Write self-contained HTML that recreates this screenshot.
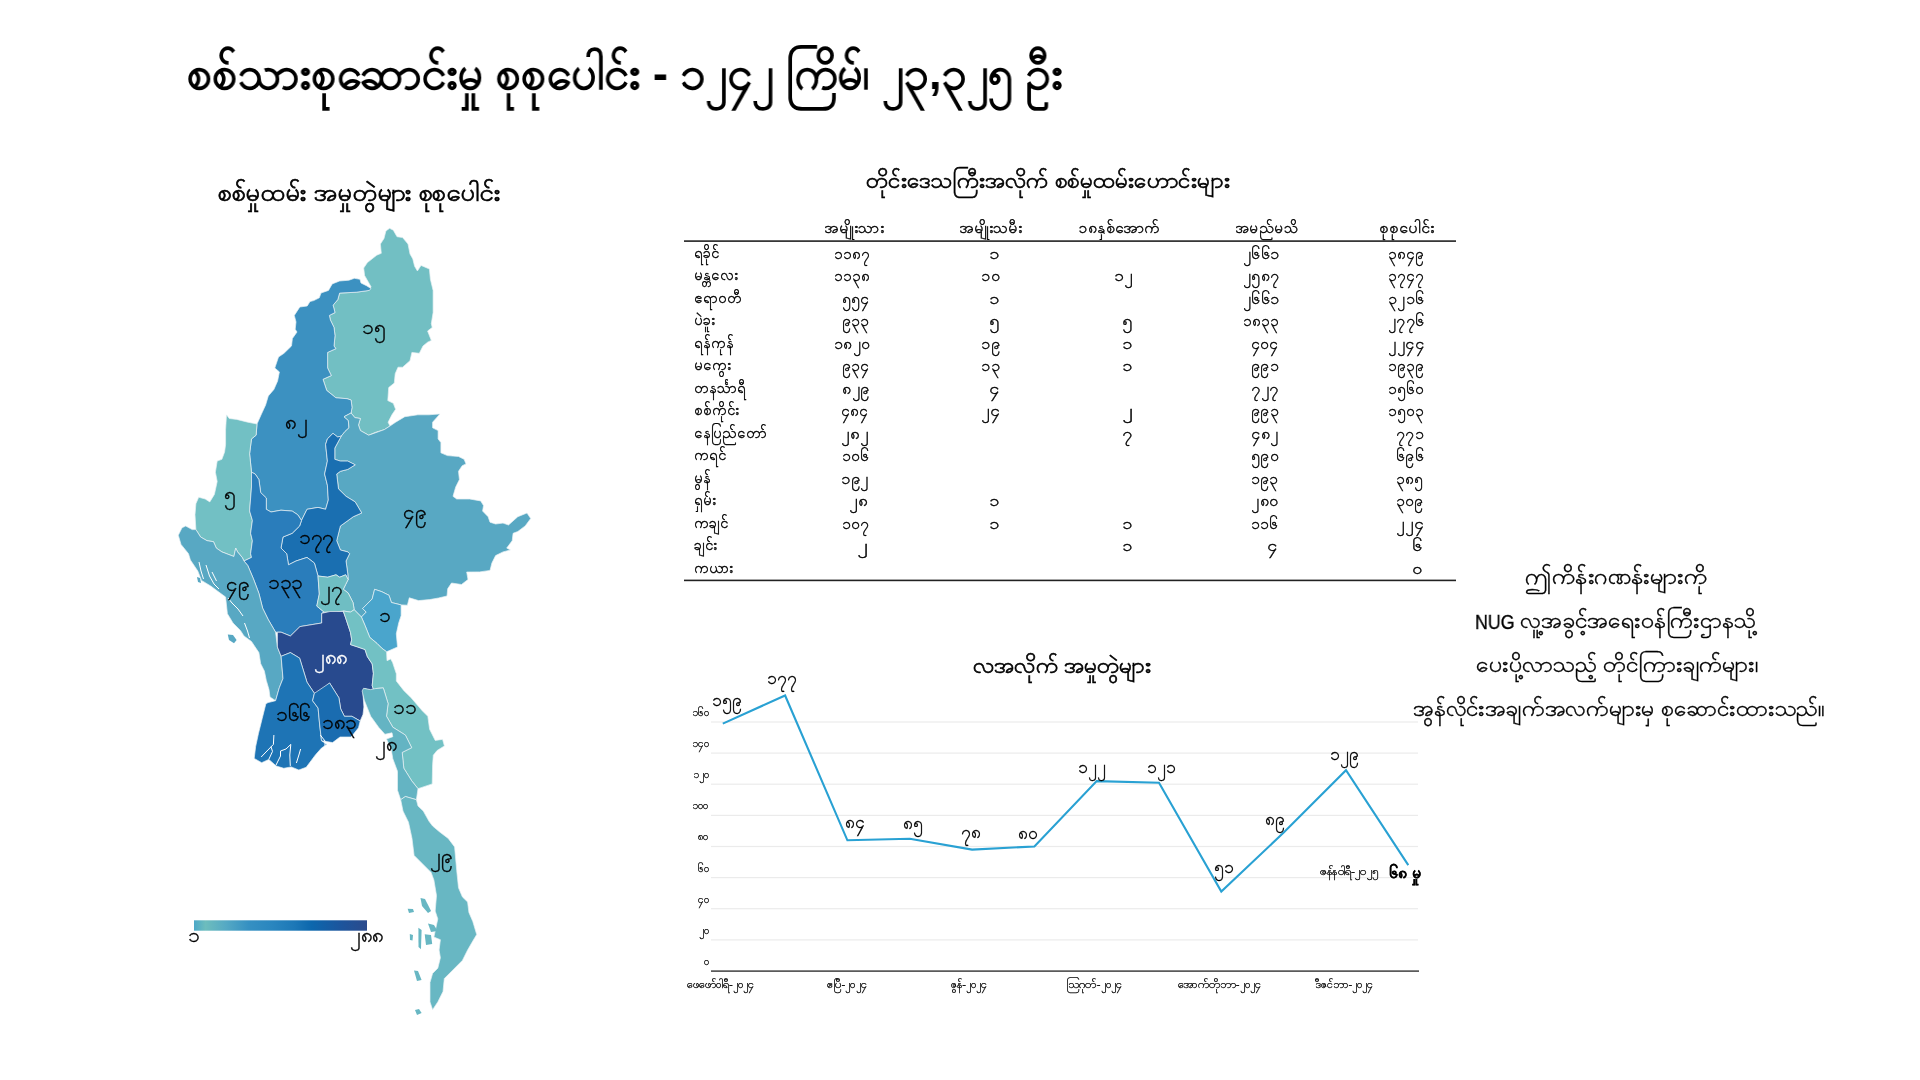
<!DOCTYPE html>
<html><head><meta charset="utf-8"><style>
html,body{margin:0;padding:0;background:#fff;width:1920px;height:1080px;overflow:hidden}
body{position:relative;font-family:"Liberation Sans",sans-serif;color:#000}
.t{position:absolute;white-space:nowrap;line-height:1;transform-origin:0 0;will-change:transform}
</style></head><body>
<svg width="1920" height="1080" style="position:absolute;left:0;top:0">
<g stroke="#e8f0f3" stroke-width="0.7" stroke-linejoin="round">
<polygon points="389.6,228.3 393.3,230.2 397.0,236.7 402.6,237.6 408.0,244.0 410.0,254.0 412.8,258.9 414.6,266.3 417.4,271.0 421.0,265.4 429.4,269.0 430.4,279.3 433.1,290.4 433.1,312.6 431.3,323.7 432.2,327.4 427.6,331.0 431.3,340.4 427.6,342.2 423.0,346.0 419.3,353.3 411.9,352.4 410.0,360.7 402.6,367.2 398.0,367.2 395.2,373.7 394.3,383.0 388.7,387.6 387.8,400.6 393.3,403.3 395.6,409.3 391.9,414.8 388.1,422.2 390.0,426.0 384.4,429.6 375.2,432.4 368.7,435.2 360.4,430.6 358.5,425.0 360.4,418.5 354.8,417.6 351.1,413.0 352.0,407.4 351.1,400.0 347.0,398.7 335.9,397.8 326.7,390.4 323.0,379.3 331.3,375.6 327.6,368.0 327.6,352.4 335.9,348.7 334.0,346.0 335.0,335.7 334.0,327.4 330.4,320.0 329.4,315.4 335.0,312.6 333.1,305.2 337.8,299.6 339.6,293.1 356.3,292.2 369.3,290.4 371.0,286.7 364.6,275.5 363.7,268.0 367.4,262.6 376.7,255.2 381.3,253.3 380.4,244.0 384.0,238.5 385.9,231.0" fill="#72bfc3"/>
<polygon points="371.0,288.5 366.5,285.7 361.0,283.0 360.0,279.3 354.4,278.3 348.9,280.2 339.6,281.0 332.2,283.9 328.5,290.4 321.0,293.0 319.3,297.8 313.7,300.6 310.0,301.5 307.2,306.0 299.8,307.0 294.3,315.4 296.0,321.9 295.2,329.3 297.0,332.0 292.4,338.5 291.5,346.0 284.0,353.3 278.5,357.0 274.8,368.0 279.4,371.9 277.6,381.0 273.9,389.4 268.3,396.0 265.6,405.0 261.0,415.0 257.0,424.0 256.1,435.2 251.5,438.9 249.6,453.7 251.5,472.2 255.2,474.0 258.9,479.6 260.7,492.6 266.3,498.0 266.3,509.3 271.0,512.0 281.0,510.2 292.2,511.1 297.8,514.8 301.5,520.4 307.0,509.3 318.0,507.4 325.6,509.3 328.3,500.0 327.4,485.2 324.6,474.0 327.4,461.1 325.6,444.4 327.4,438.9 333.0,433.3 337.6,437.0 341.3,436.1 345.0,431.5 349.0,427.8 348.3,420.4 344.0,416.7 351.1,413.0 352.0,407.4 351.1,400.0 347.0,398.7 335.9,397.8 326.7,390.4 323.0,379.3 331.3,375.6 327.6,368.0 327.6,352.4 335.9,348.7 334.0,346.0 335.0,335.7 334.0,327.4 330.4,320.0 329.4,315.4 335.0,312.6 333.1,305.2 337.8,299.6 339.6,293.1 356.3,292.2 369.3,290.4" fill="#3c91c1"/>
<polygon points="226.5,414.8 229.3,418.5 236.7,419.4 247.8,422.2 257.0,424.0 256.1,435.2 251.5,438.9 249.6,453.7 251.5,472.2 251.5,487.0 249.6,511.0 252.4,520.4 250.6,533.3 252.4,540.7 250.6,553.7 251.5,557.4 244.0,561.0 242.2,557.4 237.6,551.9 235.7,548.1 233.9,556.5 221.9,551.9 216.3,548.1 213.5,541.7 207.0,540.7 200.6,537.0 195.9,529.6 195.0,514.8 195.9,503.7 198.7,497.2 205.2,499.0 209.8,501.9 214.4,494.4 217.2,481.5 215.4,472.2 217.2,461.1 221.9,459.3 224.6,451.9 225.6,444.4 225.6,429.6" fill="#72c0c4"/>
<polygon points="368.7,435.2 384.4,429.6 390.0,426.0 395.6,422.2 404.8,416.7 417.8,414.8 428.9,414.8 440.0,413.9 432.6,422.2 432.6,427.8 438.1,430.6 438.1,438.9 440.9,442.6 440.9,452.8 447.4,455.6 458.5,456.5 464.1,459.3 466.0,463.9 462.2,465.7 458.5,471.3 459.4,479.6 455.7,487.0 453.0,496.3 456.7,499.0 469.6,499.0 480.7,500.9 483.5,505.6 482.6,511.1 488.1,516.7 490.0,522.2 495.6,524.0 503.0,523.1 508.5,525.0 517.8,516.7 527.0,513.0 530.7,518.5 525.2,525.9 517.8,531.5 513.1,533.3 512.2,540.7 506.7,548.1 510.4,550.0 503.0,551.9 495.6,555.6 491.9,563.0 490.0,570.4 479.6,571.9 466.7,572.0 468.0,579.5 461.5,584.5 451.5,583.0 447.7,588.7 447.0,596.0 438.5,598.0 429.6,599.6 418.5,600.6 409.3,597.8 407.4,605.2 401.1,604.9 391.4,602.5 389.0,595.3 381.8,591.7 374.6,589.3 372.2,598.9 362.6,608.5 366.2,612.1 361.4,617.0 354.2,609.7 353.0,602.5 348.1,592.9 343.3,589.3 345.7,584.4 348.1,579.6 347.8,574.0 346.0,561.0 349.6,553.7 347.8,551.9 340.4,550.0 336.7,540.7 340.4,526.0 353.3,516.7 361.7,513.0 355.2,501.9 346.0,496.3 338.5,488.9 336.7,474.0 340.4,471.3 347.8,469.4 355.2,464.8 347.8,461.1 340.4,461.1 334.8,459.3 334.8,448.1 341.3,436.1 345.0,431.5 349.0,427.8 348.3,420.4 344.0,416.7 351.1,413.0 354.8,417.6 360.4,418.5 358.5,425.0 360.4,430.6" fill="#58a8c3"/>
<polygon points="333.0,433.3 337.6,437.0 341.3,436.1 334.8,448.1 334.8,459.3 340.4,461.1 347.8,461.1 355.2,464.8 347.8,469.4 340.4,471.3 336.7,474.0 338.5,488.9 346.0,496.3 355.2,501.9 361.7,513.0 353.3,516.7 340.4,526.0 336.7,540.7 340.4,550.0 347.8,551.9 349.6,553.7 346.0,561.0 347.8,574.0 348.1,579.6 345.7,574.8 339.7,577.2 336.0,574.8 327.7,577.2 318.0,576.0 314.4,563.0 307.0,557.4 296.0,561.0 288.5,564.8 286.7,553.7 281.0,548.0 283.0,537.0 292.2,533.3 299.6,526.0 301.5,520.4 307.0,509.3 318.0,507.4 325.6,509.3 328.3,500.0 327.4,485.2 324.6,474.0 327.4,461.1 325.6,444.4 327.4,438.9" fill="#1a6fb1"/>
<polygon points="251.5,472.2 255.2,474.0 258.9,479.6 260.7,492.6 266.3,498.0 266.3,509.3 271.0,512.0 281.0,510.2 292.2,511.1 297.8,514.8 301.5,520.4 299.6,526.0 292.2,533.3 283.0,537.0 281.0,548.0 286.7,553.7 288.5,564.8 296.0,561.0 307.0,557.4 314.4,563.0 318.0,576.0 319.3,594.0 316.8,606.1 324.0,612.1 321.7,613.3 321.7,623.0 300.0,626.6 290.4,636.0 281.1,632.2 275.6,632.2 268.1,619.3 262.6,608.1 258.9,593.3 253.3,578.5 247.8,565.6 244.0,561.0 251.5,557.4 250.6,553.7 252.4,540.7 250.6,533.3 252.4,520.4 249.6,511.0 251.5,487.0" fill="#2a7dbb"/>
<polygon points="178.3,535.2 182.0,527.8 185.7,526.0 192.2,529.6 195.9,529.6 200.6,537.0 207.0,540.7 213.5,541.7 216.3,548.1 221.9,551.9 233.9,556.5 235.7,548.1 237.6,551.9 242.2,557.4 244.0,561.0 247.8,565.6 253.3,578.5 258.9,593.3 262.6,608.1 268.1,619.3 275.6,632.2 277.4,647.0 281.1,656.3 283.0,678.5 279.3,687.8 275.6,700.7 270.0,697.0 269.0,689.6 266.3,680.4 264.4,671.1 260.7,663.7 258.9,652.6 251.5,641.5 244.0,636.0 240.4,630.4 233.0,623.0 227.4,613.7 225.6,597.0 218.1,591.5 210.7,586.0 201.5,580.4 197.8,571.0 190.4,560.0 188.5,553.7 181.0,544.4" fill="#58a8c3"/>
<polygon points="318.0,576.0 327.7,577.2 336.0,574.8 339.7,577.2 345.7,574.8 348.1,579.6 345.7,584.4 343.3,589.3 348.1,592.9 353.0,602.5 354.2,609.7 350.5,612.1 343.3,611.0 336.0,612.1 324.0,612.1 316.8,606.1 319.3,594.0" fill="#6fbec3"/>
<polygon points="321.7,613.3 330.0,611.5 343.3,611.5 345.7,618.1 350.5,632.6 351.7,639.8 350.5,644.6 357.8,647.0 365.0,649.5 367.4,656.7 372.2,663.9 373.4,673.5 372.2,685.5 374.6,692.8 370.4,690.4 364.8,688.5 363.0,694.0 363.9,707.0 363.0,714.4 360.2,721.0 351.9,716.3 344.4,716.3 340.7,708.9 338.9,697.8 329.6,683.0 318.5,694.0 314.4,693.3 307.0,682.2 299.6,658.1 290.4,652.6 281.1,656.3 277.4,647.0 277.4,632.2 281.1,632.2 290.4,636.0 300.0,626.6 321.7,623.0" fill="#284a8e"/>
<polygon points="401.1,604.9 401.1,615.7 398.7,623.0 396.3,633.8 397.5,647.0 386.6,651.8 381.8,648.2 377.0,643.4 369.8,637.4 365.0,625.4 361.4,617.0 366.2,612.1 362.6,608.5 372.2,598.9 374.6,589.3 381.8,591.7 389.0,595.3 391.4,602.5" fill="#4aa5cc"/>
<polygon points="343.3,611.0 350.5,612.1 354.2,609.7 361.4,617.0 365.0,625.4 369.8,637.4 377.0,643.4 381.8,648.2 386.6,651.8 387.0,660.7 390.7,658.9 392.6,662.6 396.3,673.7 396.3,681.0 403.7,690.4 411.1,697.8 422.2,710.7 427.8,716.3 429.6,729.3 435.2,740.4 442.6,739.4 444.4,745.9 437.0,750.6 433.3,755.2 432.6,764.8 432.2,783.9 418.0,788.7 411.7,780.8 403.8,768.2 402.2,752.4 411.7,747.7 405.4,735.1 392.8,727.2 386.5,716.2 388.1,703.6 383.3,687.9 375.9,688.5 375.0,692.2 374.6,692.8 372.2,685.5 373.4,673.5 372.2,663.9 367.4,656.7 365.0,649.5 357.8,647.0 350.5,644.6 351.7,639.8 350.5,632.6 345.7,618.1" fill="#72c1c4"/>
<polygon points="281.1,656.3 290.4,652.6 299.6,658.1 307.0,682.2 314.4,693.3 312.6,700.7 318.1,708.1 319.6,724.0 321.5,740.7 327.0,744.4 321.5,748.1 315.6,754.7 306.2,767.3 298.8,770.0 291.2,766.9 283.8,768.3 276.2,766.0 268.8,759.4 261.7,762.7 254.2,758.4 255.7,746.3 258.5,733.3 262.2,718.5 265.9,703.7 268.1,702.6 275.6,700.7 279.3,687.8 283.0,678.5" fill="#1e74b5"/>
<polygon points="314.4,693.3 329.6,683.0 338.9,697.8 340.7,708.9 344.4,716.3 351.9,716.3 360.2,721.0 358.5,727.8 351.1,737.0 340.0,737.0 332.6,742.6 321.5,740.7 319.6,724.0 318.1,708.1 312.6,700.7" fill="#1a6cb0"/>
<polygon points="362.1,691.0 363.5,688.3 370.4,689.6 375.9,688.5 383.3,687.9 388.1,703.6 386.5,716.2 392.8,727.2 405.4,735.1 411.7,747.7 402.2,752.4 403.8,768.2 411.7,780.8 418.0,788.7 416.4,799.7 405.4,796.5 400.7,799.7 397.5,790.2 397.5,771.3 392.8,758.7 391.2,749.3 386.5,739.0 392.8,736.7 392.0,732.8 384.9,734.3 378.6,727.2 370.7,716.2 364.4,700.5" fill="#64b4c3"/>
<polygon points="400.7,799.7 405.4,796.5 416.4,799.7 418.0,806.0 423.3,811.1 429.0,821.3 432.6,826.0 439.7,832.0 448.2,838.4 454.6,846.9 456.7,870.3 458.5,887.8 462.4,896.9 467.6,902.0 468.9,912.4 472.8,921.5 476.7,934.5 472.8,941.0 467.6,950.0 462.4,960.4 452.1,970.8 444.3,978.6 443.0,991.5 437.8,1001.9 432.6,1009.7 430.0,1001.9 430.0,982.5 432.6,973.4 437.8,968.2 440.4,957.8 439.1,950.0 440.4,939.7 433.9,937.1 437.8,918.9 435.2,911.1 436.5,895.6 433.9,880.0 431.1,872.4 422.6,863.9 414.1,855.4 412.0,838.4 408.5,822.2 403.0,811.1" fill="#68b7c3"/>
</g>
<polygon points="227.8,634.4 233.0,635.0 236.6,640.0 234.0,643.2 229.0,640.0" fill="#58a8c3"/>
<polygon points="420.5,898.0 425.0,899.0 431.1,911.0 428.0,913.0 422.0,906.0" fill="#68b7c3"/>
<polygon points="407.7,908.7 413.0,909.0 414.0,912.0 409.0,913.0" fill="#68b7c3"/>
<polygon points="428.0,923.6 434.0,925.0 437.5,931.0 431.0,932.0" fill="#68b7c3"/>
<polygon points="424.7,934.2 431.0,935.0 432.2,944.0 426.0,945.0" fill="#68b7c3"/>
<polygon points="418.4,927.8 421.6,930.0 421.0,949.2 418.5,947.0" fill="#68b7c3"/>
<polygon points="414.0,970.5 418.0,971.0 421.6,980.0 417.0,981.0" fill="#68b7c3"/>
<polygon points="415.0,1010.0 419.0,1009.0 421.6,1013.0 417.0,1015.0" fill="#68b7c3"/>
<polygon points="409.8,934.0 413.0,935.0 412.5,940.6 410.0,940.0" fill="#68b7c3"/>
<polygon points="197.0,577.0 200.0,578.0 201.0,583.0 198.0,582.0" fill="#58a8c3"/>
<polyline points="273.9,735.0 273.4,744.4 266.0,752.0 261.2,757.0" fill="none" stroke="#fff" stroke-width="1"/>
<polyline points="271.0,746.7 272.5,751.4 268.8,759.4" fill="none" stroke="#fff" stroke-width="1"/>
<polyline points="290.8,744.4 286.0,749.0 280.5,751.0 280.5,756.0 275.8,765.5" fill="none" stroke="#fff" stroke-width="1"/>
<polyline points="290.8,744.4 289.8,755.0 290.3,765.9" fill="none" stroke="#fff" stroke-width="1"/>
<polyline points="300.6,749.0 299.2,754.0 296.4,763.0" fill="none" stroke="#fff" stroke-width="1"/>
<polyline points="320.3,735.0 325.0,741.0 325.0,747.7" fill="none" stroke="#fff" stroke-width="1"/>
<polyline points="199.0,562.0 201.0,571.0 203.5,579.0" fill="none" stroke="#fff" stroke-width="1"/>
<polyline points="206.0,565.0 209.5,576.0 214.0,584.0 219.0,589.0" fill="none" stroke="#fff" stroke-width="1"/>
<polyline points="212.0,572.0 216.5,581.0" fill="none" stroke="#fff" stroke-width="1"/>
<polyline points="228.0,598.0 232.0,603.0 238.0,609.0 243.0,616.0" fill="none" stroke="#fff" stroke-width="1"/>
<polyline points="244.5,623.0 247.5,631.0 249.5,638.0" fill="none" stroke="#fff" stroke-width="1"/>
<defs><linearGradient id="lg" x1="0" x2="1" y1="0" y2="0"><stop offset="0" stop-color="#4ca8c8"/><stop offset="0.066" stop-color="#6dbdbd"/><stop offset="0.185" stop-color="#55a9c4"/><stop offset="0.317" stop-color="#3590c2"/><stop offset="0.45" stop-color="#2a86bf"/><stop offset="0.58" stop-color="#1d78b7"/><stop offset="0.68" stop-color="#0c67ad"/><stop offset="0.846" stop-color="#1c559d"/><stop offset="1" stop-color="#2b4a8c"/></linearGradient></defs>
<rect x="194" y="920.3" width="173" height="10.4" fill="url(#lg)"/>
<rect x="684" y="240.3" width="772" height="1.6" fill="#222"/>
<rect x="684" y="579.6" width="772" height="1.6" fill="#222"/>
<rect x="711" y="939.3" width="707" height="1.2" fill="#ebebeb"/>
<rect x="711" y="908.1" width="707" height="1.2" fill="#ebebeb"/>
<rect x="711" y="877.0" width="707" height="1.2" fill="#ebebeb"/>
<rect x="711" y="845.9" width="707" height="1.2" fill="#ebebeb"/>
<rect x="711" y="814.8" width="707" height="1.2" fill="#ebebeb"/>
<rect x="711" y="783.6" width="707" height="1.2" fill="#ebebeb"/>
<rect x="711" y="752.5" width="707" height="1.2" fill="#ebebeb"/>
<rect x="711" y="721.4" width="707" height="1.2" fill="#ebebeb"/>
<rect x="711" y="970.4" width="708" height="1.4" fill="#333"/>
<polyline points="722.8,723.6 785.1,695.5 847.4,840.3 909.8,838.7 972.1,849.6 1034.4,846.5 1096.7,781.1 1159.0,782.7 1221.3,891.6 1283.7,832.5 1346.0,770.2 1408.3,865.2" fill="none" stroke="#29a1d3" stroke-width="2.1" stroke-linejoin="miter"/>
</svg>
<div class="t" style="left:186.6px;top:49.6px;font-size:46.4px;font-weight:bold;color:#000;transform:scaleX(0.9711);">စစ်သားစုဆောင်းမှု စုစုပေါင်း - ၁၂၄၂ ကြိမ်၊ ၂၃,၃၂၅ ဦး</div>
<div class="t" style="left:217.7px;top:180.2px;font-size:24.9px;font-weight:normal;color:#000;transform:scaleX(1.0458);-webkit-text-stroke:0.7px #000;">စစ်မှုထမ်း အမှုတွဲများ စုစုပေါင်း</div>
<div class="t" style="left:865.6px;top:171.3px;font-size:21.5px;font-weight:normal;color:#000;transform:scaleX(1.0547);-webkit-text-stroke:0.6px #000;">တိုင်းဒေသကြီးအလိုက် စစ်မှုထမ်းဟောင်းများ</div>
<div class="t" style="left:972.7px;top:655.6px;font-size:21.3px;font-weight:normal;color:#000;transform:scaleX(1.0621);-webkit-text-stroke:0.6px #000;">လအလိုက် အမှုတွဲများ</div>
<div class="t" style="left:1525.3px;top:565.9px;font-size:21px;font-weight:normal;color:#000;transform:scaleX(1.1167);-webkit-text-stroke:0.35px #000;">ဤကိန်းဂဏန်းများကို</div>
<div class="t" style="left:1520.4px;top:609.9px;font-size:21px;font-weight:normal;color:#000;transform:scaleX(1.0963);-webkit-text-stroke:0.35px #000;">လူ့အခွင့်အရေးဝန်ကြီးဌာနသို့</div>
<div class="t" style="left:1475.9px;top:654.3px;font-size:21px;font-weight:normal;color:#000;transform:scaleX(1.0988);-webkit-text-stroke:0.35px #000;">ပေးပို့လာသည့် တိုင်ကြားချက်များ၊</div>
<div class="t" style="left:1412.9px;top:697.9px;font-size:21px;font-weight:normal;color:#000;transform:scaleX(1.0869);-webkit-text-stroke:0.35px #000;">အွန်လိုင်းအချက်အလက်များမှ စုဆောင်းထားသည်။</div>
<div class="t" style="left:361.9px;top:318.1px;font-size:19.5px;font-weight:normal;color:#000;transform:scaleX(1.0600);-webkit-text-stroke:0.35px #000;">၁၅</div>
<div class="t" style="left:284.6px;top:412.6px;font-size:19.5px;font-weight:normal;color:#000;transform:scaleX(1.0600);-webkit-text-stroke:0.35px #000;">၈၂</div>
<div class="t" style="left:224.3px;top:484.6px;font-size:19.5px;font-weight:normal;color:#000;transform:scaleX(1.0600);-webkit-text-stroke:0.35px #000;">၅</div>
<div class="t" style="left:402.5px;top:502.6px;font-size:19.5px;font-weight:normal;color:#000;transform:scaleX(1.0600);-webkit-text-stroke:0.35px #000;">၄၉</div>
<div class="t" style="left:299.1px;top:527.6px;font-size:19.5px;font-weight:normal;color:#000;transform:scaleX(1.0600);-webkit-text-stroke:0.35px #000;">၁၇၇</div>
<div class="t" style="left:267.5px;top:572.6px;font-size:19.5px;font-weight:normal;color:#000;transform:scaleX(1.0600);-webkit-text-stroke:0.35px #000;">၁၃၃</div>
<div class="t" style="left:226.3px;top:574.6px;font-size:19.5px;font-weight:normal;color:#000;transform:scaleX(1.0600);-webkit-text-stroke:0.35px #000;">၄၉</div>
<div class="t" style="left:320.4px;top:579.6px;font-size:19.5px;font-weight:normal;color:#000;transform:scaleX(1.0600);-webkit-text-stroke:0.35px #000;">၂၇</div>
<div class="t" style="left:378.6px;top:605.6px;font-size:19.5px;font-weight:normal;color:#000;transform:scaleX(1.0600);-webkit-text-stroke:0.35px #000;">၁</div>
<div class="t" style="left:393.1px;top:697.6px;font-size:19.5px;font-weight:normal;color:#000;transform:scaleX(1.0600);-webkit-text-stroke:0.35px #000;">၁၁</div>
<div class="t" style="left:275.5px;top:704.6px;font-size:19.5px;font-weight:normal;color:#000;transform:scaleX(1.0600);-webkit-text-stroke:0.35px #000;">၁၆၆</div>
<div class="t" style="left:322.4px;top:712.6px;font-size:19.5px;font-weight:normal;color:#000;transform:scaleX(1.0600);-webkit-text-stroke:0.35px #000;">၁၈၃</div>
<div class="t" style="left:374.5px;top:734.6px;font-size:19.5px;font-weight:normal;color:#000;transform:scaleX(1.0600);-webkit-text-stroke:0.35px #000;">၂၈</div>
<div class="t" style="left:429.6px;top:846.6px;font-size:19.5px;font-weight:normal;color:#000;transform:scaleX(1.0600);-webkit-text-stroke:0.35px #000;">၂၉</div>
<div class="t" style="left:313.9px;top:647.6px;font-size:19.5px;font-weight:normal;color:#fff;transform:scaleX(1.0600);-webkit-text-stroke:0.35px #fff;">၂၈၈</div>
<div class="t" style="left:188.4px;top:925.8px;font-size:19.5px;font-weight:normal;color:#000;transform:scaleX(1.0600);-webkit-text-stroke:0.35px #000;">၁</div>
<div class="t" style="left:349.8px;top:925.8px;font-size:19.5px;font-weight:normal;color:#000;transform:scaleX(1.0600);-webkit-text-stroke:0.35px #000;">၂၈၈</div>
<div class="t" style="left:824.2px;top:220.6px;font-size:14.3px;font-weight:normal;color:#000;transform:scaleX(1.0677);-webkit-text-stroke:0.35px #000;">အမျိုးသား</div>
<div class="t" style="left:958.7px;top:220.6px;font-size:14.3px;font-weight:normal;color:#000;transform:scaleX(1.0754);-webkit-text-stroke:0.35px #000;">အမျိုးသမီး</div>
<div class="t" style="left:1079.0px;top:220.6px;font-size:14.3px;font-weight:normal;color:#000;transform:scaleX(1.0638);-webkit-text-stroke:0.35px #000;">၁၈နှစ်အောက်</div>
<div class="t" style="left:1235.3px;top:220.6px;font-size:14.3px;font-weight:normal;color:#000;transform:scaleX(1.0326);-webkit-text-stroke:0.35px #000;">အမည်မသိ</div>
<div class="t" style="left:1379.0px;top:220.6px;font-size:14.3px;font-weight:normal;color:#000;transform:scaleX(1.1042);-webkit-text-stroke:0.35px #000;">စုစုပေါင်း</div>
<div class="t" style="left:693.8px;top:245.9px;font-size:14.5px;font-weight:normal;color:#000;-webkit-text-stroke:0.35px #000;">ရခိုင်</div>
<div class="t" style="left:833.5px;top:245.6px;font-size:15.0px;font-weight:normal;color:#000;-webkit-text-stroke:0.35px #000;">၁၁၈၇</div>
<div class="t" style="left:989.1px;top:245.6px;font-size:15.0px;font-weight:normal;color:#000;transform:scaleX(1.1852);-webkit-text-stroke:0.35px #000;">၁</div>
<div class="t" style="left:1242.8px;top:245.6px;font-size:15.0px;font-weight:normal;color:#000;transform:scaleX(1.0509);-webkit-text-stroke:0.35px #000;">၂၆၆၁</div>
<div class="t" style="left:1387.7px;top:245.6px;font-size:15.0px;font-weight:normal;color:#000;-webkit-text-stroke:0.35px #000;">၃၈၄၉</div>
<div class="t" style="left:694.0px;top:268.4px;font-size:14.5px;font-weight:normal;color:#000;-webkit-text-stroke:0.35px #000;">မန္တလေး</div>
<div class="t" style="left:833.5px;top:268.1px;font-size:15.0px;font-weight:normal;color:#000;-webkit-text-stroke:0.35px #000;">၁၁၃၈</div>
<div class="t" style="left:981.2px;top:268.1px;font-size:15.0px;font-weight:normal;color:#000;transform:scaleX(1.0561);-webkit-text-stroke:0.35px #000;">၁၀</div>
<div class="t" style="left:1113.9px;top:268.1px;font-size:15.0px;font-weight:normal;color:#000;transform:scaleX(1.1348);-webkit-text-stroke:0.35px #000;">၁၂</div>
<div class="t" style="left:1242.8px;top:268.1px;font-size:15.0px;font-weight:normal;color:#000;transform:scaleX(1.0407);-webkit-text-stroke:0.35px #000;">၂၅၈၇</div>
<div class="t" style="left:1387.6px;top:268.1px;font-size:15.0px;font-weight:normal;color:#000;transform:scaleX(1.0063);-webkit-text-stroke:0.35px #000;">၃၇၄၇</div>
<div class="t" style="left:693.8px;top:290.9px;font-size:14.5px;font-weight:normal;color:#000;-webkit-text-stroke:0.35px #000;">ဧရာဝတီ</div>
<div class="t" style="left:841.5px;top:290.6px;font-size:15.0px;font-weight:normal;color:#000;transform:scaleX(1.0256);-webkit-text-stroke:0.35px #000;">၅၅၄</div>
<div class="t" style="left:989.1px;top:290.6px;font-size:15.0px;font-weight:normal;color:#000;transform:scaleX(1.1852);-webkit-text-stroke:0.35px #000;">၁</div>
<div class="t" style="left:1242.8px;top:290.6px;font-size:15.0px;font-weight:normal;color:#000;transform:scaleX(1.0509);-webkit-text-stroke:0.35px #000;">၂၆၆၁</div>
<div class="t" style="left:1387.6px;top:290.6px;font-size:15.0px;font-weight:normal;color:#000;transform:scaleX(1.0407);-webkit-text-stroke:0.35px #000;">၃၂၁၆</div>
<div class="t" style="left:694.0px;top:313.4px;font-size:14.5px;font-weight:normal;color:#000;-webkit-text-stroke:0.35px #000;">ပဲခူး</div>
<div class="t" style="left:841.5px;top:313.1px;font-size:15.0px;font-weight:normal;color:#000;transform:scaleX(1.0256);-webkit-text-stroke:0.35px #000;">၉၃၃</div>
<div class="t" style="left:989.1px;top:313.1px;font-size:15.0px;font-weight:normal;color:#000;transform:scaleX(1.1852);-webkit-text-stroke:0.35px #000;">၅</div>
<div class="t" style="left:1121.9px;top:313.1px;font-size:15.0px;font-weight:normal;color:#000;transform:scaleX(1.1852);-webkit-text-stroke:0.35px #000;">၅</div>
<div class="t" style="left:1242.9px;top:313.1px;font-size:15.0px;font-weight:normal;color:#000;-webkit-text-stroke:0.35px #000;">၁၈၃၃</div>
<div class="t" style="left:1387.6px;top:313.1px;font-size:15.0px;font-weight:normal;color:#000;transform:scaleX(1.0509);-webkit-text-stroke:0.35px #000;">၂၇၇၆</div>
<div class="t" style="left:693.8px;top:335.9px;font-size:14.5px;font-weight:normal;color:#000;-webkit-text-stroke:0.35px #000;">ရန်ကုန်</div>
<div class="t" style="left:833.5px;top:335.6px;font-size:15.0px;font-weight:normal;color:#000;transform:scaleX(1.0356);-webkit-text-stroke:0.35px #000;">၁၈၂၀</div>
<div class="t" style="left:981.2px;top:335.6px;font-size:15.0px;font-weight:normal;color:#000;transform:scaleX(1.0561);-webkit-text-stroke:0.35px #000;">၁၉</div>
<div class="t" style="left:1121.9px;top:335.6px;font-size:15.0px;font-weight:normal;color:#000;transform:scaleX(1.1852);-webkit-text-stroke:0.35px #000;">၁</div>
<div class="t" style="left:1250.7px;top:335.6px;font-size:15.0px;font-weight:normal;color:#000;transform:scaleX(1.0256);-webkit-text-stroke:0.35px #000;">၄၀၄</div>
<div class="t" style="left:1387.6px;top:335.6px;font-size:15.0px;font-weight:normal;color:#000;transform:scaleX(1.0774);-webkit-text-stroke:0.35px #000;">၂၂၄၄</div>
<div class="t" style="left:694.0px;top:358.4px;font-size:14.5px;font-weight:normal;color:#000;-webkit-text-stroke:0.35px #000;">မကွေး</div>
<div class="t" style="left:841.5px;top:358.1px;font-size:15.0px;font-weight:normal;color:#000;transform:scaleX(1.0191);-webkit-text-stroke:0.35px #000;">၉၃၄</div>
<div class="t" style="left:981.2px;top:358.1px;font-size:15.0px;font-weight:normal;color:#000;transform:scaleX(1.0561);-webkit-text-stroke:0.35px #000;">၁၃</div>
<div class="t" style="left:1121.9px;top:358.1px;font-size:15.0px;font-weight:normal;color:#000;transform:scaleX(1.1852);-webkit-text-stroke:0.35px #000;">၁</div>
<div class="t" style="left:1250.8px;top:358.1px;font-size:15.0px;font-weight:normal;color:#000;transform:scaleX(1.0323);-webkit-text-stroke:0.35px #000;">၉၉၁</div>
<div class="t" style="left:1387.6px;top:358.1px;font-size:15.0px;font-weight:normal;color:#000;transform:scaleX(1.0063);-webkit-text-stroke:0.35px #000;">၁၉၃၉</div>
<div class="t" style="left:694.0px;top:380.9px;font-size:14.5px;font-weight:normal;color:#000;-webkit-text-stroke:0.35px #000;">တနင်္သာရီ</div>
<div class="t" style="left:841.5px;top:380.6px;font-size:15.0px;font-weight:normal;color:#000;transform:scaleX(1.0667);-webkit-text-stroke:0.35px #000;">၈၂၉</div>
<div class="t" style="left:988.9px;top:380.6px;font-size:15.0px;font-weight:normal;color:#000;transform:scaleX(1.1852);-webkit-text-stroke:0.35px #000;">၄</div>
<div class="t" style="left:1250.8px;top:380.6px;font-size:15.0px;font-weight:normal;color:#000;transform:scaleX(1.0811);-webkit-text-stroke:0.35px #000;">၇၂၇</div>
<div class="t" style="left:1387.6px;top:380.6px;font-size:15.0px;font-weight:normal;color:#000;transform:scaleX(1.0111);-webkit-text-stroke:0.35px #000;">၁၅၆၀</div>
<div class="t" style="left:694.0px;top:403.4px;font-size:14.5px;font-weight:normal;color:#000;-webkit-text-stroke:0.35px #000;">စစ်ကိုင်း</div>
<div class="t" style="left:841.3px;top:403.1px;font-size:15.0px;font-weight:normal;color:#000;transform:scaleX(1.0127);-webkit-text-stroke:0.35px #000;">၄၈၄</div>
<div class="t" style="left:981.1px;top:403.1px;font-size:15.0px;font-weight:normal;color:#000;transform:scaleX(1.1348);-webkit-text-stroke:0.35px #000;">၂၄</div>
<div class="t" style="left:1121.7px;top:403.1px;font-size:15.0px;font-weight:normal;color:#000;transform:scaleX(1.4035);-webkit-text-stroke:0.35px #000;">၂</div>
<div class="t" style="left:1250.8px;top:403.1px;font-size:15.0px;font-weight:normal;color:#000;transform:scaleX(1.0323);-webkit-text-stroke:0.35px #000;">၉၉၃</div>
<div class="t" style="left:1387.6px;top:403.1px;font-size:15.0px;font-weight:normal;color:#000;transform:scaleX(1.0111);-webkit-text-stroke:0.35px #000;">၁၅၀၃</div>
<div class="t" style="left:693.8px;top:425.9px;font-size:14.5px;font-weight:normal;color:#000;-webkit-text-stroke:0.35px #000;">နေပြည်တော်</div>
<div class="t" style="left:841.4px;top:425.6px;font-size:15.0px;font-weight:normal;color:#000;transform:scaleX(1.1189);-webkit-text-stroke:0.35px #000;">၂၈၂</div>
<div class="t" style="left:1121.9px;top:425.6px;font-size:15.0px;font-weight:normal;color:#000;transform:scaleX(1.1852);-webkit-text-stroke:0.35px #000;">၇</div>
<div class="t" style="left:1250.6px;top:425.6px;font-size:15.0px;font-weight:normal;color:#000;transform:scaleX(1.0667);-webkit-text-stroke:0.35px #000;">၄၈၂</div>
<div class="t" style="left:1395.6px;top:425.6px;font-size:15.0px;font-weight:normal;color:#000;transform:scaleX(1.0323);-webkit-text-stroke:0.35px #000;">၇၇၁</div>
<div class="t" style="left:693.8px;top:448.4px;font-size:14.5px;font-weight:normal;color:#000;-webkit-text-stroke:0.35px #000;">ကရင်</div>
<div class="t" style="left:841.5px;top:448.1px;font-size:15.0px;font-weight:normal;color:#000;transform:scaleX(1.0256);-webkit-text-stroke:0.35px #000;">၁၀၆</div>
<div class="t" style="left:1250.8px;top:448.1px;font-size:15.0px;font-weight:normal;color:#000;transform:scaleX(1.0323);-webkit-text-stroke:0.35px #000;">၅၉၀</div>
<div class="t" style="left:1395.6px;top:448.1px;font-size:15.0px;font-weight:normal;color:#000;transform:scaleX(1.0323);-webkit-text-stroke:0.35px #000;">၆၉၆</div>
<div class="t" style="left:694.0px;top:470.9px;font-size:14.5px;font-weight:normal;color:#000;-webkit-text-stroke:0.35px #000;">မွန်</div>
<div class="t" style="left:841.4px;top:470.6px;font-size:15.0px;font-weight:normal;color:#000;transform:scaleX(1.0738);-webkit-text-stroke:0.35px #000;">၁၉၂</div>
<div class="t" style="left:1250.8px;top:470.6px;font-size:15.0px;font-weight:normal;color:#000;transform:scaleX(1.0256);-webkit-text-stroke:0.35px #000;">၁၉၃</div>
<div class="t" style="left:1395.6px;top:470.6px;font-size:15.0px;font-weight:normal;color:#000;transform:scaleX(1.0127);-webkit-text-stroke:0.35px #000;">၃၈၅</div>
<div class="t" style="left:693.8px;top:493.4px;font-size:14.5px;font-weight:normal;color:#000;-webkit-text-stroke:0.35px #000;">ရှမ်း</div>
<div class="t" style="left:849.4px;top:493.1px;font-size:15.0px;font-weight:normal;color:#000;transform:scaleX(1.1348);-webkit-text-stroke:0.35px #000;">၂၈</div>
<div class="t" style="left:989.1px;top:493.1px;font-size:15.0px;font-weight:normal;color:#000;transform:scaleX(1.1852);-webkit-text-stroke:0.35px #000;">၁</div>
<div class="t" style="left:1250.8px;top:493.1px;font-size:15.0px;font-weight:normal;color:#000;transform:scaleX(1.0667);-webkit-text-stroke:0.35px #000;">၂၈၀</div>
<div class="t" style="left:1395.6px;top:493.1px;font-size:15.0px;font-weight:normal;color:#000;transform:scaleX(1.0256);-webkit-text-stroke:0.35px #000;">၃၀၉</div>
<div class="t" style="left:693.8px;top:515.9px;font-size:14.5px;font-weight:normal;color:#000;-webkit-text-stroke:0.35px #000;">ကချင်</div>
<div class="t" style="left:841.5px;top:515.6px;font-size:15.0px;font-weight:normal;color:#000;transform:scaleX(1.0256);-webkit-text-stroke:0.35px #000;">၁၀၇</div>
<div class="t" style="left:989.1px;top:515.6px;font-size:15.0px;font-weight:normal;color:#000;transform:scaleX(1.1852);-webkit-text-stroke:0.35px #000;">၁</div>
<div class="t" style="left:1121.9px;top:515.6px;font-size:15.0px;font-weight:normal;color:#000;transform:scaleX(1.1852);-webkit-text-stroke:0.35px #000;">၁</div>
<div class="t" style="left:1250.8px;top:515.6px;font-size:15.0px;font-weight:normal;color:#000;transform:scaleX(1.0191);-webkit-text-stroke:0.35px #000;">၁၁၆</div>
<div class="t" style="left:1395.6px;top:515.6px;font-size:15.0px;font-weight:normal;color:#000;transform:scaleX(1.1268);-webkit-text-stroke:0.35px #000;">၂၂၄</div>
<div class="t" style="left:693.8px;top:538.4px;font-size:14.5px;font-weight:normal;color:#000;-webkit-text-stroke:0.35px #000;">ချင်း</div>
<div class="t" style="left:857.2px;top:538.1px;font-size:15.0px;font-weight:normal;color:#000;transform:scaleX(1.4035);-webkit-text-stroke:0.35px #000;">၂</div>
<div class="t" style="left:1121.9px;top:538.1px;font-size:15.0px;font-weight:normal;color:#000;transform:scaleX(1.1852);-webkit-text-stroke:0.35px #000;">၁</div>
<div class="t" style="left:1266.5px;top:538.1px;font-size:15.0px;font-weight:normal;color:#000;transform:scaleX(1.1852);-webkit-text-stroke:0.35px #000;">၄</div>
<div class="t" style="left:1411.5px;top:538.1px;font-size:15.0px;font-weight:normal;color:#000;transform:scaleX(1.1852);-webkit-text-stroke:0.35px #000;">၆</div>
<div class="t" style="left:693.8px;top:560.9px;font-size:14.5px;font-weight:normal;color:#000;-webkit-text-stroke:0.35px #000;">ကယား</div>
<div class="t" style="left:1411.5px;top:560.6px;font-size:15.0px;font-weight:normal;color:#000;transform:scaleX(1.1852);-webkit-text-stroke:0.35px #000;">၀</div>
<div class="t" style="left:703.6px;top:955.8px;font-size:10.5px;font-weight:normal;color:#000;-webkit-text-stroke:0.25px #000;">၀</div>
<div class="t" style="left:698.6px;top:924.7px;font-size:10.5px;font-weight:normal;color:#000;-webkit-text-stroke:0.25px #000;">၂၀</div>
<div class="t" style="left:697.8px;top:893.6px;font-size:10.5px;font-weight:normal;color:#000;-webkit-text-stroke:0.25px #000;">၄၀</div>
<div class="t" style="left:697.9px;top:862.5px;font-size:10.5px;font-weight:normal;color:#000;-webkit-text-stroke:0.25px #000;">၆၀</div>
<div class="t" style="left:697.7px;top:831.3px;font-size:10.5px;font-weight:normal;color:#000;-webkit-text-stroke:0.25px #000;">၈၀</div>
<div class="t" style="left:692.0px;top:800.2px;font-size:10.5px;font-weight:normal;color:#000;-webkit-text-stroke:0.25px #000;">၁၀၀</div>
<div class="t" style="left:692.7px;top:769.1px;font-size:10.5px;font-weight:normal;color:#000;-webkit-text-stroke:0.25px #000;">၁၂၀</div>
<div class="t" style="left:691.9px;top:738.0px;font-size:10.5px;font-weight:normal;color:#000;-webkit-text-stroke:0.25px #000;">၁၄၀</div>
<div class="t" style="left:692.0px;top:706.8px;font-size:10.5px;font-weight:normal;color:#000;-webkit-text-stroke:0.25px #000;">၁၆၀</div>
<div class="t" style="left:711.7px;top:692.2px;font-size:17.2px;font-weight:normal;color:#000;-webkit-text-stroke:0.35px #000;">၁၅၉</div>
<div class="t" style="left:767.1px;top:670.2px;font-size:17.2px;font-weight:normal;color:#000;-webkit-text-stroke:0.35px #000;">၁၇၇</div>
<div class="t" style="left:844.9px;top:814.0px;font-size:17.2px;font-weight:normal;color:#000;-webkit-text-stroke:0.35px #000;">၈၄</div>
<div class="t" style="left:902.9px;top:815.2px;font-size:17.2px;font-weight:normal;color:#000;-webkit-text-stroke:0.35px #000;">၈၅</div>
<div class="t" style="left:961.1px;top:823.6px;font-size:17.2px;font-weight:normal;color:#000;-webkit-text-stroke:0.35px #000;">၇၈</div>
<div class="t" style="left:1018.0px;top:824.8px;font-size:17.2px;font-weight:normal;color:#000;-webkit-text-stroke:0.35px #000;">၈၀</div>
<div class="t" style="left:1078.0px;top:759.0px;font-size:17.2px;font-weight:normal;color:#000;-webkit-text-stroke:0.35px #000;">၁၂၂</div>
<div class="t" style="left:1146.5px;top:759.0px;font-size:17.2px;font-weight:normal;color:#000;-webkit-text-stroke:0.35px #000;">၁၂၁</div>
<div class="t" style="left:1214.4px;top:859.0px;font-size:17.2px;font-weight:normal;color:#000;-webkit-text-stroke:0.35px #000;">၅၁</div>
<div class="t" style="left:1265.0px;top:810.5px;font-size:17.2px;font-weight:normal;color:#000;-webkit-text-stroke:0.35px #000;">၈၉</div>
<div class="t" style="left:1329.8px;top:745.6px;font-size:17.2px;font-weight:normal;color:#000;-webkit-text-stroke:0.35px #000;">၁၂၉</div>
<div class="t" style="left:1320.3px;top:865.2px;font-size:11.7px;font-weight:normal;color:#000;transform:scaleX(1.0369);-webkit-text-stroke:0.25px #000;">ဇန်နဝါရီ-၂၀၂၅</div>
<div class="t" style="left:1388.5px;top:866.2px;font-size:14.5px;font-weight:bold;color:#000;transform:scaleX(1.0466);-webkit-text-stroke:0.4px #000;">၆၈ မှု</div>
<div class="t" style="left:687.1px;top:979.0px;font-size:11px;font-weight:normal;color:#000;transform:scaleX(1.0270);-webkit-text-stroke:0.25px #000;">ဖေဖော်ဝါရီ-၂၀၂၄</div>
<div class="t" style="left:826.7px;top:979.0px;font-size:11px;font-weight:normal;color:#000;transform:scaleX(1.0323);-webkit-text-stroke:0.25px #000;">ဧပြီ-၂၀၂၄</div>
<div class="t" style="left:950.7px;top:979.0px;font-size:11px;font-weight:normal;color:#000;transform:scaleX(1.0208);-webkit-text-stroke:0.25px #000;">ဇွန်-၂၀၂၄</div>
<div class="t" style="left:1065.7px;top:979.0px;font-size:11px;font-weight:normal;color:#000;transform:scaleX(1.0262);-webkit-text-stroke:0.25px #000;">ဩဂုတ်-၂၀၂၄</div>
<div class="t" style="left:1177.6px;top:979.0px;font-size:11px;font-weight:normal;color:#000;transform:scaleX(1.0309);-webkit-text-stroke:0.25px #000;">အောက်တိုဘာ-၂၀၂၄</div>
<div class="t" style="left:1315.2px;top:979.0px;font-size:11px;font-weight:normal;color:#000;transform:scaleX(1.0145);-webkit-text-stroke:0.25px #000;">ဒီဇင်ဘာ-၂၀၂၄</div>
<div class="t" style="left:1475.4px;top:612.6px;font-size:19.8px;font-weight:normal;color:#000;transform:scaleX(0.9009);-webkit-text-stroke:0.35px #000;">NUG</div>
</body></html>
